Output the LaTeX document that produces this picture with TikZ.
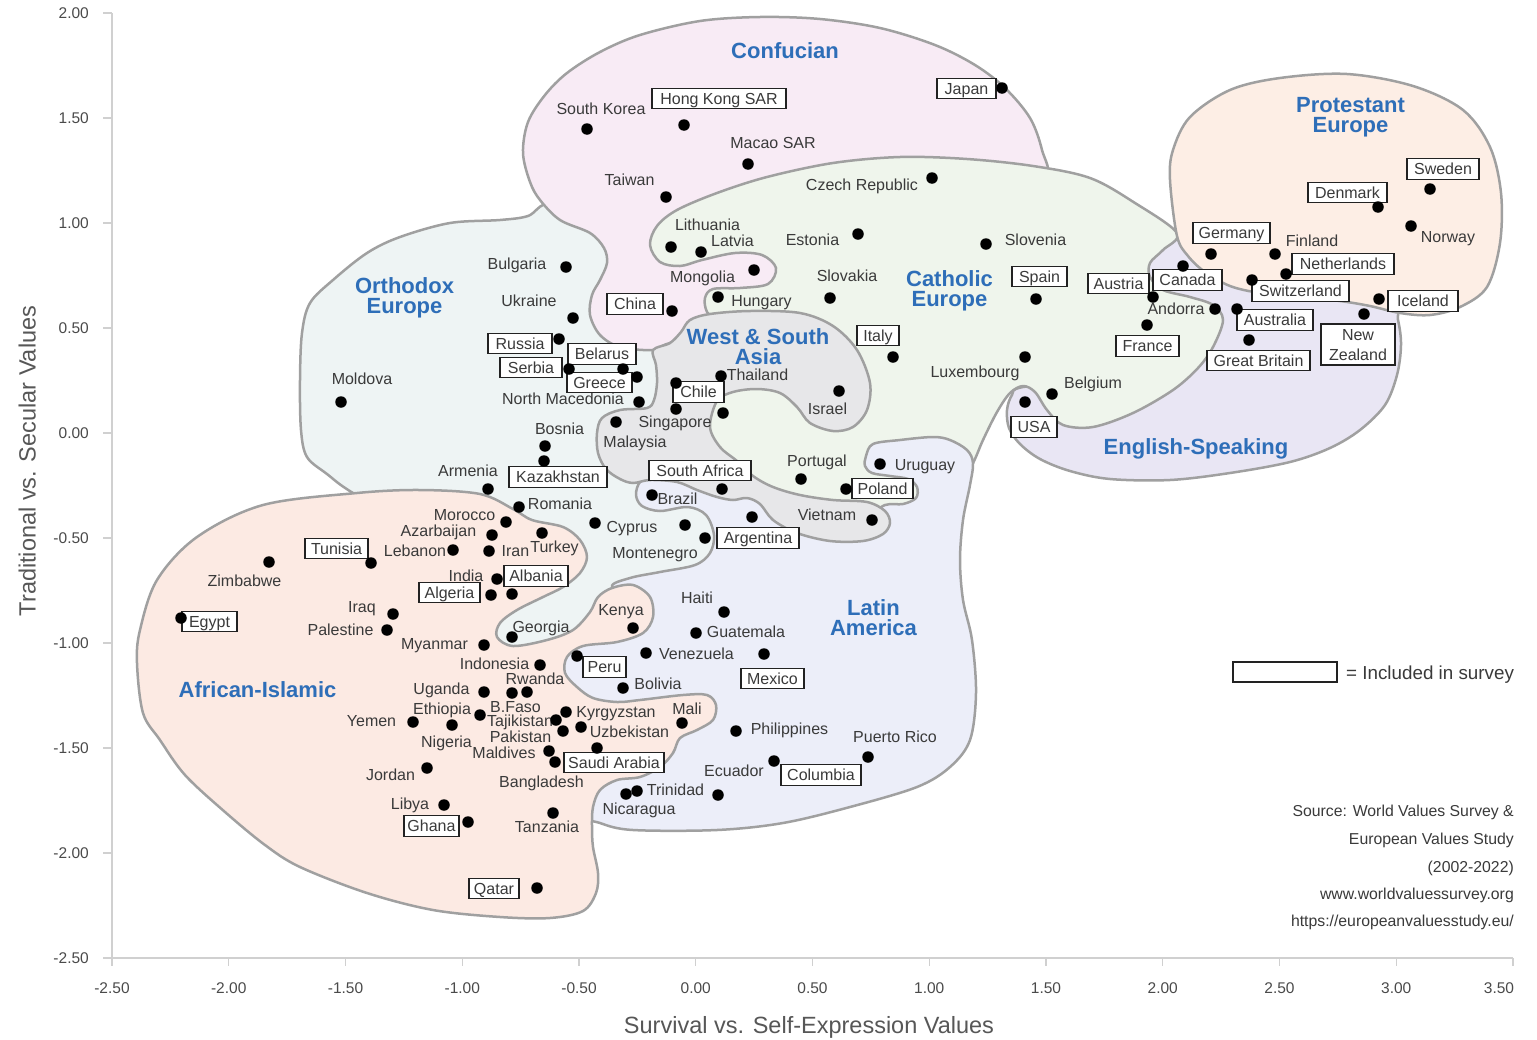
\documentclass[tikz,border=0pt]{standalone}
\usepackage{fontspec}
\setmainfont{Liberation Sans}
\definecolor{rgnline}{HTML}{A0A0A0}
\definecolor{txt}{HTML}{3A3A3A}
\definecolor{ttl}{HTML}{2E6EB8}
\definecolor{axisgray}{HTML}{D0D0D0}
\definecolor{ticktxt}{HTML}{4A4A4A}
\definecolor{boxline}{HTML}{222222}
\definecolor{cConf}{HTML}{F8EBF5}
\definecolor{cOrth}{HTML}{EEF4F4}
\definecolor{cCath}{HTML}{EFF5EC}
\definecolor{cProt}{HTML}{FDEEE5}
\definecolor{cEng}{HTML}{E9E6F4}
\definecolor{cWSA}{HTML}{E7E7E9}
\definecolor{cLat}{HTML}{ECEEF9}
\definecolor{cAfr}{HTML}{FCEAE3}
\begin{document}
\begin{tikzpicture}[x=1pt,y=-1pt,
  region/.style={draw=rgnline,line width=2.5pt,line join=round},
  dot/.style={circle,fill=black,inner sep=0pt,minimum size=11.5pt},
  lbl/.style={font=\fontsize{16}{16}\selectfont,text=txt,inner sep=0pt,text height=11.5pt,text depth=0pt},
  boxlbl/.style={lbl,draw=boxline,fill=white,line width=1.3pt,minimum height=20.5pt},
  rtitle/.style={font=\bfseries\fontsize{22}{22}\selectfont,text=ttl,inner sep=0pt,text height=15.8pt,text depth=0pt},
  tick/.style={font=\fontsize{15.5}{16}\selectfont,text=ticktxt,inner sep=0pt,text height=11pt,text depth=0pt},
  axtitle/.style={font=\fontsize{23.5}{24}\selectfont,text=txt!85,inner sep=0pt,text height=17pt,text depth=0pt},
  src/.style={font=\fontsize{15.8}{16}\selectfont,text=txt,inner sep=0pt,text height=11pt,text depth=0pt,anchor=east}
]
\useasboundingbox[fill=white] (0,0) rectangle (1537,1039);

% ---------- axes ----------
\draw[axisgray,line width=1.5pt] (112,13) -- (112,958) -- (1513,958);
\foreach \v [count=\i from 0] in {2.00,1.50,1.00,0.50,0.00,-0.50,-1.00,-1.50,-2.00,-2.50}{
  \draw[axisgray,line width=1.2pt] (103,13+105*\i) -- (112,13+105*\i);
  \node[tick,anchor=east] (yt\i) at (89,13+105*\i) {\v};
}
\foreach \v [count=\i from 0] in {-2.50,-2.00,-1.50,-1.00,-0.50,0.00,0.50,1.00,1.50,2.00,2.50,3.00}{
  \draw[axisgray,line width=1.2pt] (112+116.75*\i,958) -- (112+116.75*\i,966);
  \node[tick] (xt\i) at (112+116.75*\i,988) {\v};
}
\draw[axisgray,line width=1.2pt] (1513,958) -- (1513,966);
\node[tick] (xt12) at (1499,988) {3.50};
\node[axtitle] (xtitle) at (809,1025) {Survival vs. Self-Expression Values};
\node[axtitle,rotate=90] (ytitle) at (27,461) {Traditional vs. Secular Values};

% ---------- cultural zones ----------
% Orthodox Europe
\filldraw[region,fill=cOrth] plot[smooth cycle,tension=0.55] coordinates {
 (550,204) (528,216) (500,220) (450,223) (400,237) (367,253) (333,280) (310,303) (302,333) (300,380) (301,430) (307,457) (327,474) (353,493)
 (420,530) (470,580) (488,640) (520,657) (560,656) (600,625) (640,600) (700,585) (730,545) (722,500) (690,470) (680,430) (670,380) (660,340) (625,300) (625,260) (600,225)};
% Confucian
\filldraw[region,fill=cConf] plot[smooth cycle,tension=0.55] coordinates {
 (540,200) (530,182) (523,153) (528,122) (545,95) (567,73) (600,52) (640,35) (700,21) (760,17) (820,19) (880,28) (935,45) (975,65) (1005,88) (1030,118) (1042,150) (1046,182)
 (1000,230) (900,262) (800,308) (740,325) (670,343) (653,350) (620,347) (600,335) (590,315) (592,295) (600,280) (607,263) (604,248) (590,233) (560,220)};
% English-Speaking
\filldraw[region,fill=cEng] plot[smooth cycle,tension=0.55] coordinates {
 (1023,387) (1100,378) (1180,322) (1140,272) (1168,238) (1210,250) (1300,272) (1390,296) (1398,320) (1401,345) (1397,375) (1385,405) (1360,430) (1330,448) (1290,462) (1230,473) (1170,480) (1110,479) (1070,471) (1040,459) (1020,444) (1009,428) (1007,410) (1012,395)};
% Catholic Europe
\filldraw[region,fill=cCath] plot[smooth cycle,tension=0.55] coordinates {
 (650,245) (657,226) (677,210) (717,193) (767,177) (833,163) (900,157) (967,159) (1033,166) (1090,178) (1135,203) (1177,233)
 (1163,250) (1150,263) (1150,277) (1163,290) (1190,297) (1213,305) (1223,320) (1213,347) (1198,368) (1173,390) (1133,413) (1093,427) (1063,425) (1047,410) (1035,392) (1023,386) (1010,393) (997,412) (983,440) (973,463)
 (960,482) (920,515) (850,520) (770,500) (722,465) (700,420) (712,380) (720,330)
 (707,312) (705,298) (713,289) (740,288) (768,284) (776,268) (762,255) (735,253) (702,260) (680,266) (660,262)};
% Protestant Europe
\filldraw[region,fill=cProt] plot[smooth cycle,tension=0.55] coordinates {
 (1170,180) (1173,150) (1190,117) (1230,90) (1280,78) (1347,74) (1413,86) (1463,110) (1490,147) (1501,193) (1500,243) (1487,287) (1460,307) (1430,315) (1400,313) (1370,306) (1340,301) (1300,297) (1260,293) (1230,286) (1205,272) (1188,256) (1177,236)};
% Latin America
\filldraw[region,fill=cLat] plot[smooth cycle,tension=0.55] coordinates {
 (640,482) (636,495) (642,506) (660,511) (688,507) (706,515) (714,535) (710,553) (695,565) (660,572) (630,578) (612,587)
 (640,605) (625,635) (595,640) (570,650) (560,670) (560,700) (575,760) (580,812)
 (600,823) (633,830) (717,830) (783,823) (850,807) (917,787) (950,767) (970,740) (976,693) (972,640) (963,600) (960,560) (963,520) (970,485) (973,463)
 (967,450) (950,440) (933,437) (900,440) (873,444) (866,456) (865,466) (872,473) (890,476) (908,479) (917,487) (916,498) (903,504) (885,505)
 (860,518) (800,514) (760,500) (720,488) (680,478) (652,479)};
% African-Islamic
\filldraw[region,fill=cAfr] plot[smooth cycle,tension=0.55] coordinates {
 (357,493) (420,490) (480,494) (513,509) (532,520) (563,527) (580,540) (587,557) (580,573) (563,587) (543,597) (517,610) (500,623) (497,637) (513,646) (547,640) (573,630) (590,612) (598,597) (612,588) (633,585) (650,597) (653,617) (643,633) (617,642) (583,646) (567,657) (565,673) (577,687) (593,698) (617,702) (640,700) (683,695) (707,695) (716,705) (713,720) (697,730) (680,738) (673,753) (660,767) (640,777) (617,780) (600,790) (593,807) (592,827) (593,847) (598,873) (596,893) (583,911) (550,918) (500,917) (433,910) (367,893) (300,867) (265,845) (225,812) (185,775) (160,740) (143,713) (137,663) (140,630) (157,580) (197,537) (263,505)};
% West & South Asia
\filldraw[region,fill=cWSA] plot[smooth cycle,tension=0.55] coordinates {
 (653,350) (670,343) (681,332) (690,320) (710,314) (750,311) (800,313) (833,326) (857,350) (870,383) (867,410) (853,427) (833,431) (810,423) (797,407) (780,393) (757,389) (733,392) (717,401) (710,427) (720,447) (737,461) (753,476) (773,487) (800,495) (833,500) (867,502) (885,511) (890,523) (883,534) (863,541) (830,541) (797,533) (773,520) (760,504) (747,498) (733,500) (717,497) (697,490) (677,482) (650,480) (633,483) (620,479) (606,469) (598,453) (597,433) (602,418) (620,410) (647,408) (654,400) (657,383) (656,365)};

% ---------- zone titles ----------
\node[rtitle] (tConf) at (785,51) {Confucian};
\node[rtitle] (tProt1) at (1350.5,105) {Protestant};
\node[rtitle] (tProt2) at (1350.5,125) {Europe};
\node[rtitle] (tOrth1) at (404.5,285.5) {Orthodox};
\node[rtitle] (tOrth2) at (404.5,305.5) {Europe};
\node[rtitle] (tCath1) at (949.5,278.5) {Catholic};
\node[rtitle] (tCath2) at (949.5,298.5) {Europe};
\node[rtitle] (tWSA1) at (758,336.5) {West \& South};
\node[rtitle] (tWSA2) at (758,356.5) {Asia};
\node[rtitle] (tEng) at (1196,447) {English-Speaking};
\node[rtitle] (tLat1) at (873.5,608) {Latin};
\node[rtitle] (tLat2) at (873.5,628) {America};
\node[rtitle] (tAfr) at (257.5,690) {African-Islamic};

% ---------- plain country labels ----------
\node[lbl] (nSKorea) at (601,108.5) {South Korea};
\node[lbl] (nMacao) at (773,143) {Macao SAR};
\node[lbl] (nTaiwan) at (629.5,179.5) {Taiwan};
\node[lbl] (nMongolia) at (702.5,277) {Mongolia};
\node[lbl] (nCzech) at (862,184.5) {Czech Republic};
\node[lbl] (nLithuania) at (707.5,225) {Lithuania};
\node[lbl] (nLatvia) at (732.5,241) {Latvia};
\node[lbl] (nEstonia) at (812.5,239.5) {Estonia};
\node[lbl] (nSlovenia) at (1035.5,239.5) {Slovenia};
\node[lbl] (nSlovakia) at (847,276) {Slovakia};
\node[lbl] (nHungary) at (761.5,301) {Hungary};
\node[lbl] (nLux) at (975,372) {Luxembourg};
\node[lbl] (nBelgium) at (1093,383) {Belgium};
\node[lbl] (nAndorra) at (1176,309) {Andorra};
\node[lbl] (nPortugal) at (817,461) {Portugal};
\node[lbl] (nUruguay) at (925,465) {Uruguay};
\node[lbl] (nFinland) at (1312,240.5) {Finland};
\node[lbl] (nNorway) at (1448,237) {Norway};
\node[lbl] (nBulgaria) at (517,263.5) {Bulgaria};
\node[lbl] (nUkraine) at (529,301) {Ukraine};
\node[lbl] (nMoldova) at (362,378.5) {Moldova};
\node[lbl] (nNMac) at (563,399) {North Macedonia};
\node[lbl] (nBosnia) at (559.5,428.5) {Bosnia};
\node[lbl] (nArmenia) at (468,471) {Armenia};
\node[lbl] (nRomania) at (560,503.5) {Romania};
\node[lbl] (nCyprus) at (632,527) {Cyprus};
\node[lbl] (nMontenegro) at (655,552.5) {Montenegro};
\node[lbl] (nGeorgia) at (541,627) {Georgia};
\node[lbl] (nThailand) at (757.5,375) {Thailand};
\node[lbl] (nSingapore) at (675,422) {Singapore};
\node[lbl] (nMalaysia) at (635,442) {Malaysia};
\node[lbl] (nIsrael) at (827.5,409) {Israel};
\node[lbl] (nVietnam) at (827,515) {Vietnam};
\node[lbl] (nBrazil) at (677.5,498.5) {Brazil};
\node[lbl] (nHaiti) at (697,597.5) {Haiti};
\node[lbl] (nGuatemala) at (746,632) {Guatemala};
\node[lbl] (nVenezuela) at (696.5,653.5) {Venezuela};
\node[lbl] (nBolivia) at (658,684) {Bolivia};
\node[lbl] (nPhilippines) at (789.5,728.5) {Philippines};
\node[lbl] (nPuertoRico) at (895,737) {Puerto Rico};
\node[lbl] (nEcuador) at (734,771) {Ecuador};
\node[lbl] (nTrinidad) at (675.5,789.5) {Trinidad};
\node[lbl] (nNicaragua) at (639,809) {Nicaragua};
\node[lbl] (nZimbabwe) at (244.5,581) {Zimbabwe};
\node[lbl] (nLebanon) at (415,551) {Lebanon};
\node[lbl] (nMorocco) at (464.5,515) {Morocco};
\node[lbl] (nAzar) at (438.5,531) {Azarbaijan};
\node[lbl] (nIran) at (515.5,551) {Iran};
\node[lbl] (nTurkey) at (554.5,547) {Turkey};
\node[lbl] (nIndia) at (466,576) {India};
\node[lbl] (nIraq) at (362,607) {Iraq};
\node[lbl] (nPalestine) at (340.5,629.5) {Palestine};
\node[lbl] (nMyanmar) at (434.5,643.5) {Myanmar};
\node[lbl] (nIndonesia) at (494.5,664) {Indonesia};
\node[lbl] (nRwanda) at (535,678.5) {Rwanda};
\node[lbl] (nUganda) at (441.5,688.5) {Uganda};
\node[lbl] (nEthiopia) at (442,708.5) {Ethiopia};
\node[lbl] (nBFaso) at (515.5,706.5) {B.Faso};
\node[lbl] (nYemen) at (371.5,720.5) {Yemen};
\node[lbl] (nTajik) at (520,720.5) {Tajikistan};
\node[lbl] (nKyrgyz) at (616,712) {Kyrgyzstan};
\node[lbl] (nMali) at (687,708.5) {Mali};
\node[lbl] (nNigeria) at (446.5,741.5) {Nigeria};
\node[lbl] (nPakistan) at (520.5,737) {Pakistan};
\node[lbl] (nUzbek) at (629.5,732) {Uzbekistan};
\node[lbl] (nMaldives) at (504,753) {Maldives};
\node[lbl] (nJordan) at (390.5,775) {Jordan};
\node[lbl] (nBangladesh) at (541.5,782) {Bangladesh};
\node[lbl] (nLibya) at (410,804) {Libya};
\node[lbl] (nTanzania) at (547,826.5) {Tanzania};
\node[lbl] (nKenya) at (621,610) {Kenya};

% ---------- boxed country labels (included in survey) ----------
\node[boxlbl,minimum width=134pt] (bHK) at (719,98.5) {Hong Kong SAR};
\node[boxlbl,minimum width=59pt] (bJapan) at (966.5,88.5) {Japan};
\node[boxlbl,minimum width=56pt] (bChina) at (635,304) {China};
\node[boxlbl,minimum width=55pt] (bSpain) at (1039.5,276.5) {Spain};
\node[boxlbl,minimum width=42pt] (bItaly) at (878,335.5) {Italy};
\node[boxlbl,minimum width=61pt] (bAustria) at (1118.5,283.5) {Austria};
\node[boxlbl,minimum width=69pt] (bCanada) at (1187.5,280) {Canada};
\node[boxlbl,minimum width=63pt] (bFrance) at (1147.5,346) {France};
\node[boxlbl,minimum width=77pt] (bGermany) at (1231.5,233) {Germany};
\node[boxlbl,minimum width=79pt] (bDenmark) at (1347.5,192.5) {Denmark};
\node[boxlbl,minimum width=72pt] (bSweden) at (1443,169) {Sweden};
\node[boxlbl,minimum width=102pt] (bNether) at (1343,264) {Netherlands};
\node[boxlbl,minimum width=97pt] (bSwiss) at (1300.5,291) {Switzerland};
\node[boxlbl,minimum width=70pt] (bIceland) at (1423,301) {Iceland};
\node[boxlbl,minimum width=76pt] (bAustralia) at (1275,320) {Australia};
\node[boxlbl,minimum width=103pt] (bGB) at (1258.5,360.5) {Great Britain};
\node[draw=boxline,fill=white,line width=1.3pt,minimum width=74pt,minimum height=41pt,inner sep=0pt] (bNZ) at (1358,344.5) {};
\node[lbl] (bNZa) at (1358,334.5) {New};
\node[lbl] (bNZb) at (1358,354.5) {Zealand};
\node[boxlbl,minimum width=46pt] (bUSA) at (1034,427) {USA};
\node[boxlbl,minimum width=64pt] (bRussia) at (520,343.5) {Russia};
\node[boxlbl,minimum width=68pt] (bBelarus) at (602,354) {Belarus};
\node[boxlbl,minimum width=62pt] (bSerbia) at (531,367.5) {Serbia};
\node[boxlbl,minimum width=65pt] (bGreece) at (599.5,382.5) {Greece};
\node[boxlbl,minimum width=98pt] (bKazakh) at (558,477) {Kazakhstan};
\node[boxlbl,minimum width=51pt] (bChile) at (698.5,392) {Chile};
\node[boxlbl,minimum width=102pt] (bSAfrica) at (700,470.5) {South Africa};
\node[boxlbl,minimum width=61pt] (bPoland) at (882.5,488.5) {Poland};
\node[boxlbl,minimum width=82pt] (bArgentina) at (758,538) {Argentina};
\node[boxlbl,minimum width=63pt] (bTunisia) at (336.5,548.5) {Tunisia};
\node[boxlbl,minimum width=55pt] (bEgypt) at (209.5,621.5) {Egypt};
\node[boxlbl,minimum width=61pt] (bAlgeria) at (449.5,592.5) {Algeria};
\node[boxlbl,minimum width=64pt] (bAlbania) at (536,576) {Albania};
\node[boxlbl,minimum width=43pt] (bPeru) at (604.5,667) {Peru};
\node[boxlbl,minimum width=63pt] (bMexico) at (772.5,678.5) {Mexico};
\node[boxlbl,minimum width=100pt] (bSaudi) at (614,762.5) {Saudi Arabia};
\node[boxlbl,minimum width=55pt] (bGhana) at (431.5,826) {Ghana};
\node[boxlbl,minimum width=50pt] (bQatar) at (494,888.5) {Qatar};
\node[boxlbl,minimum width=80pt] (bColumbia) at (821,775) {Columbia};

% ---------- country positions ----------
\foreach \p [count=\k] in {
 (587,129),(684,125),(748,164),(666,197),(1002,88),(672,311),(754,270),
 (932,178),(671,247),(701,252),(858,234),(986,244),(830,298),(718,297),(1036,299),(893,357),(1025,357),(1052,394),(1215,309),(1153,297),(1147,325),(801,479),(846,489),(723,413),(880,464),
 (1430,189),(1378,207),(1411,226),(1211,254),(1275,254),(1286,274),(1252,280),(1379,299),
 (1183,266),(1237,309),(1249,340),(1364,314),(1025,402),
 (566,267),(573,318),(559,339),(623,369),(569,369),(637,377),(639,402),(341,402),(545,446),(544,461),(488,489),(519,507),(595,523),(685,525),(705,538),(512,637),
 (721,376),(676,383),(676,409),(616,422),(839,391),(722,489),(872,520),
 (652,495),(752,517),(724,612),(696,633),(646,653),(764,654),(577,656),(623,688),(736,731),(868,757),(774,761),(718,795),(637,791),(626,794),
 (269,562),(371,563),(181,618),(453,550),(506,522),(492,535),(489,551),(542,533),(497,579),(512,594),(491,595),(393,614),(387,630),(484,645),(540,665),(512,693),(527,692),(484,692),(480,715),(556,720),(566,712),(413,722),(452,725),(563,731),(581,727),(682,723),(549,751),(555,762),(597,748),(427,768),(444,805),(468,822),(553,813),(537,888),(633,628)}
 \node[dot] (d\k) at \p {};

% ---------- legend and source ----------
\node[draw=boxline,fill=white,line width=1.3pt,minimum width=104pt,minimum height=20pt,inner sep=0pt] (legbox) at (1285,672) {};
\node[font=\fontsize{18.8}{19}\selectfont,text=txt,inner sep=0pt,text height=13.5pt,text depth=0pt,anchor=west] (legtxt) at (1346,672.5) {= Included in survey};
\node[src] (s1) at (1514,811) {Source: World Values Survey \&};
\node[src] (s2) at (1514,839) {European Values Study};
\node[src] (s3) at (1514,866.5) {(2002-2022)};
\node[src] (s4) at (1514,894) {www.worldvaluessurvey.org};
\node[src] (s5) at (1514,921) {https://europeanvaluesstudy.eu/};
\end{tikzpicture}
\end{document}
